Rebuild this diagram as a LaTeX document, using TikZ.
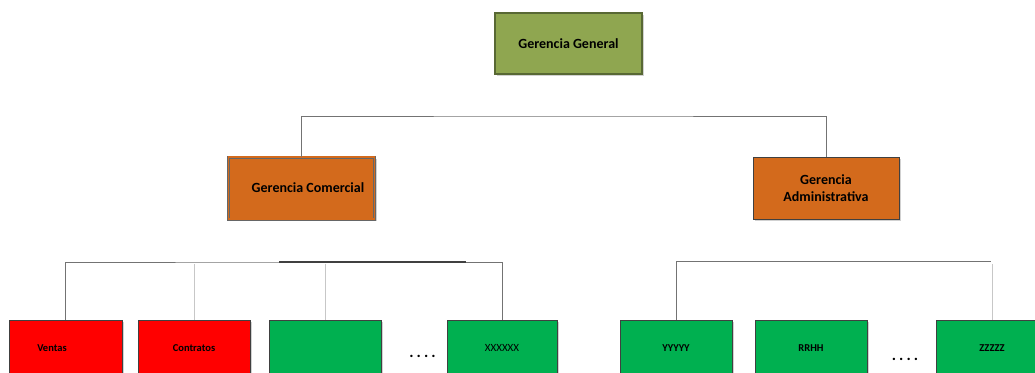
\documentclass[tikz,border=0pt]{standalone}
\usepackage{fontspec}
\setmainfont{Carlito}
\definecolor{olive}{RGB}{143,166,80}
\definecolor{oliveedge}{RGB}{88,104,52}
\definecolor{rust}{RGB}{211,106,28}
\definecolor{leafgreen}{RGB}{0,176,80}
\definecolor{edge}{RGB}{64,64,64}
\tikzset{
  x=1pt, y=-1pt,
  shade/.style={preaction={fill=black!18, transform canvas={xshift=2pt,yshift=-2pt}}},
  box/.style={rectangle, inner sep=0pt, shade, draw=edge, line width=0.9pt},
  top/.style={box, fill=olive, draw=oliveedge, line width=1.6pt, minimum width=147pt, minimum height=61pt, font=\bfseries\fontsize{14}{16}\selectfont},
  mid/.style={box, fill=rust, minimum width=146pt, minimum height=62pt, font=\bfseries\fontsize{14}{17}\selectfont, align=center},
  leaf/.style={box, minimum width=112pt, minimum height=56pt, font=\bfseries\fontsize{10.5}{12}\selectfont},
  txt/.style={inner sep=0pt},
  bus/.style={draw=black!55, line width=1pt},
  busdark/.style={draw=black!75, line width=1.3pt},
  faint/.style={draw=black!22, line width=0.8pt},
  dots/.style={inner sep=0pt, font=\bfseries\fontsize{16}{18}\selectfont},
}
\begin{document}
\begin{tikzpicture}
\useasboundingbox (0,0) rectangle (1035,372);
\clip (0,0) rectangle (1035,372);

% management levels
\node[top] (gg) at (568.5,43.5) {Gerencia General};
\node[mid, draw=edge!80, line width=0.7pt, double=rust, double distance=1.6pt] (gc) at (301.5,188) {};
\node[txt, font=\bfseries\fontsize{14}{16}\selectfont] (gct) at (308,188) {Gerencia Comercial};
\node[mid] (ga) at (826,188) {Gerencia\\Administrativa};

% link between the two managements
\coordinate (topbus) at (563,116);
\draw[bus] (gc.north) |- (topbus) -| (ga.north);

% commercial units
\node[leaf, fill=red, minimum width=113pt] (ventas) at (65.5,348) {};
\node[txt, font=\bfseries\fontsize{10.5}{12}\selectfont] (ventast) at (52,348) {Ventas};
\node[leaf, fill=red] (contratos) at (194,348) {Contratos};
\node[leaf, fill=leafgreen] (blank) at (325,348) {};
\node[leaf, fill=leafgreen, minimum width=110pt, font=\fontsize{11}{12}\selectfont] (xxx) at (502,348) {XXXXXX};
\node[dots] (dl) at (422.5,356) {.\hspace{3pt}.\hspace{3pt}.\hspace{3pt}.};

\coordinate (lbus) at (283,262);
\coordinate (lb1) at (279,262);
\coordinate (lb2) at (466,262);
\draw[bus] (ventas.north) |- (lbus) -| (xxx.north);
\draw[busdark] (lb1) -- (lb2);
\draw[faint] (contratos.north) -- (contratos.north |- 0,264);
\draw[faint] (blank.north) -- (blank.north |- 0,264);

% administrative units
\node[leaf, fill=leafgreen] (yyy) at (676,348) {YYYYY};
\node[leaf, fill=leafgreen] (rrhh) at (811,348) {RRHH};
\node[leaf, fill=leafgreen] (zzz) at (992,348) {ZZZZZ};
\node[dots] (dr) at (905,359) {.\hspace{3pt}.\hspace{3pt}.\hspace{3pt}.};

\coordinate (rbus) at (991,261);
\draw[bus] (yyy.north) |- (rbus);
\draw[faint] (zzz.north) -- (zzz.north |- 0,264);
\end{tikzpicture}
\end{document}
